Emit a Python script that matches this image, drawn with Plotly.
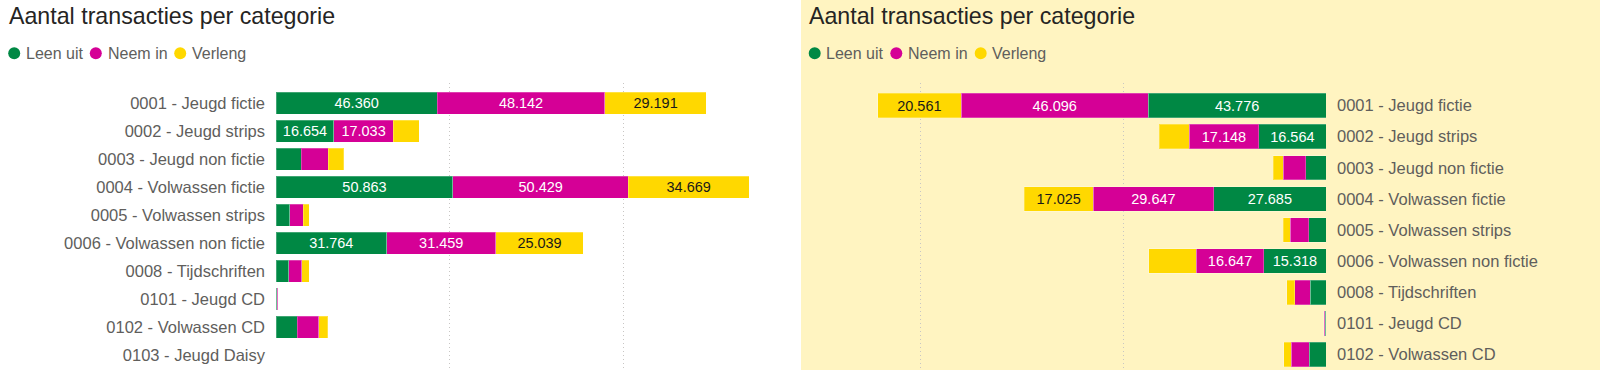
import plotly.graph_objects as go

# ---------------- data ----------------
categories = [
    "0001 - Jeugd fictie",
    "0002 - Jeugd strips",
    "0003 - Jeugd non fictie",
    "0004 - Volwassen fictie",
    "0005 - Volwassen strips",
    "0006 - Volwassen non fictie",
    "0008 - Tijdschriften",
    "0101 - Jeugd CD",
    "0102 - Volwassen CD",
    "0103 - Jeugd Daisy",
]
series_names = ["Leen uit", "Neem in", "Verleng"]

# left chart
left_leen = [46360, 16654, 7200, 50863, 3900, 31764, 3700, 200, 6100, 0]
left_neem = [48142, 17033, 7760, 50429, 3900, 31459, 3700, 250, 6200, 0]
left_verl = [29191, 7470, 4500, 34669, 1700, 25039, 2200, 100, 2600, 0]

# right chart
right_leen = [43776, 16564, 5000, 27685, 4270, 15318, 3860, 200, 4100, 0]
right_neem = [46096, 17148, 5500, 29647, 4500, 16647, 3780, 250, 4500, 0]
right_verl = [20561, 7300, 2550, 17025, 1800, 11660, 1970, 100, 1800, 0]

grid_ticks = [0, 50000, 100000]
title_text = "Aantal transacties per categorie"

# ---------------- styling ----------------
W, H = 1600, 370
COLORS = ["#008844", "#D50096", "#FFD800"]
TEXT_COLORS = ["#FFFFFF", "#FFFFFF", "#1A1A1A"]
FONT = "Liberation Sans, Arial, sans-serif"
LABEL_MIN_PX = 52  # labels only shown when the segment is wide enough


def px(x):
    return x / W


def py(y):
    return 1 - y / H


def labels(vals, scale):
    return [f"{v:,}".replace(",", ".") if v * scale >= LABEL_MIN_PX else "" for v in vals]


left_x0, left_x1 = 276, 791
right_x0, right_x1 = 808, 1326
left_scale = 3.479 / 1000
right_scale = 4.06 / 1000

fig = go.Figure()

left_vals = [left_leen, left_neem, left_verl]
right_vals = [right_leen, right_neem, right_verl]

for vals_set, scale, xa, ya in ((left_vals, left_scale, "x", "y"),
                                (right_vals, right_scale, "x2", "y2")):
    for i, name in enumerate(series_names):
        fig.add_trace(go.Bar(
            y=categories, x=vals_set[i], orientation="h", name=name,
            marker=dict(color=COLORS[i], line=dict(color="rgba(255,255,255,0.25)", width=1)),
            text=labels(vals_set[i], scale), textposition="inside",
            insidetextanchor="middle", textangle=0,
            insidetextfont=dict(color=TEXT_COLORS[i], size=14.5, family=FONT),
            xaxis=xa, yaxis=ya, showlegend=False,
        ))

xcommon = dict(
    showticklabels=False, showgrid=True, gridcolor="#C8C6C4", griddash="1px,3px",
    gridwidth=1, zeroline=False, showline=False, tickmode="array",
    tickvals=grid_ticks, ticks="",
)
ycommon = dict(
    type="category", categoryorder="array", categoryarray=categories,
    showgrid=False, showline=False, zeroline=False, ticks="",
    tickfont=dict(family=FONT, size=16.5, color="#605E5C"),
)

shapes = [
    dict(type="rect", xref="paper", yref="paper", x0=px(801), x1=1, y0=0, y1=1,
         fillcolor="#FFF4C1", line=dict(width=0), layer="below"),
]
annotations = []

# titles + custom legends for both panels
for off in (0, 800.5):
    annotations.append(dict(
        text=title_text, xref="paper", yref="paper", x=px(7 + off), y=py(15.5),
        xanchor="left", yanchor="middle", showarrow=False,
        font=dict(family=FONT, size=23.2, color="#252423"),
    ))
    leg = [(14.2, 24.0), (95.8, 105.8), (180.2, 190.0)]
    for (cx, tx), name, col in zip(leg, series_names, COLORS):
        r = 6
        shapes.append(dict(
            type="circle", xref="paper", yref="paper",
            x0=px(cx - r + off), x1=px(cx + r + off),
            y0=py(53.3 + r), y1=py(53.3 - r),
            fillcolor=col, line=dict(width=0),
        ))
        annotations.append(dict(
            text=name, xref="paper", yref="paper", x=px(tx + off), y=py(53.8),
            xanchor="left", yanchor="middle", showarrow=False,
            font=dict(family=FONT, size=16, color="#605E5C"),
        ))

fig.update_layout(
    width=W, height=H,
    margin=dict(l=0, r=0, t=0, b=0),
    paper_bgcolor="#FFFFFF", plot_bgcolor="rgba(0,0,0,0)",
    barmode="stack", bargap=0.215,
    xaxis=dict(domain=[px(left_x0), px(left_x1)],
               range=[0, (left_x1 - left_x0) / left_scale], anchor="y", **xcommon),
    yaxis=dict(domain=[py(369.4), py(83)], range=[9.5, -0.73], anchor="x",
               side="left", ticklabelstandoff=10, **ycommon),
    xaxis2=dict(domain=[px(right_x0), px(right_x1)],
                range=[(right_x1 - right_x0) / right_scale, 0], anchor="y2", **xcommon),
    yaxis2=dict(domain=[0, py(83)], range=[8.496, -0.723], anchor="x2",
                side="right", ticklabelstandoff=10, **ycommon),
    shapes=shapes, annotations=annotations,
    font=dict(family=FONT),
)

fig.write_html(
    "out.html",
    config={"displayModeBar": False},
    post_script="document.body.style.margin='0px';document.body.style.overflow='hidden';",
)
